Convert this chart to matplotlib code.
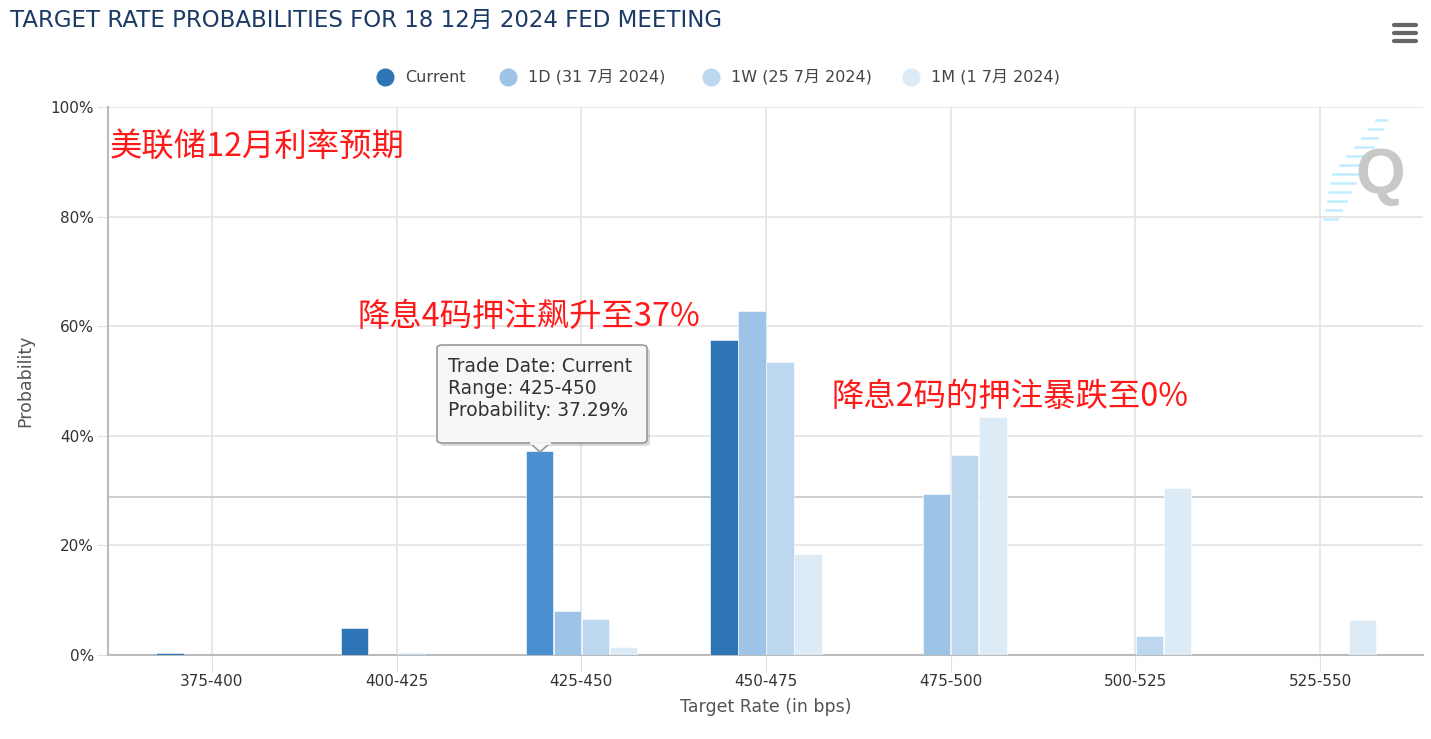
import matplotlib
matplotlib.use('Agg')
import matplotlib.pyplot as plt
import numpy as np
from matplotlib.patches import FancyBboxPatch, Polygon
from matplotlib.lines import Line2D

# donnees
categories = ['375-400', '400-425', '425-450', '450-475', '475-500', '500-525', '525-550']
current = [0.3, 4.9, 37.29, 57.5, 0, 0, 0]
d1 = [0, 0, 8.0, 62.8, 29.4, 0, 0]
w1 = [0, 0.3, 6.6, 53.5, 36.5, 3.5, 0]
m1 = [0, 0, 1.5, 18.4, 43.4, 30.5, 6.4]
series_names = ['Current', '1D (31 7月 2024)', '1W (25 7月 2024)', '1M (1 7月 2024)']
yticks = [0, 20, 40, 60, 80, 100]

colors = ['#2e75b6', '#9dc3e6', '#bdd7ee', '#ddebf7']
hover_color = '#4a90d0'

cjk = 'Noto Sans CJK SC'
plt.rcParams['font.family'] = ['DejaVu Sans', cjk]

fig = plt.figure(figsize=(14.31, 7.39), dpi=100)
ax = fig.add_axes([108/1431, 84/739, 1315/1431, 548/739])

x = np.arange(len(categories))
bw = 0.148
step = 0.152
for i, vals in enumerate([current, d1, w1, m1]):
    cols = [colors[i]] * len(vals)
    if i == 0:
        cols[2] = hover_color
    ax.bar(x + (i - 1.5) * step, vals, width=bw, color=cols, edgecolor='white', linewidth=0.4, zorder=3)

ax.set_xlim(-0.563, 6.557)
ax.set_ylim(0, 100)
ax.set_yticks(yticks)
ax.set_yticklabels([f'{v}%' for v in yticks], fontsize=11, color='#333333')
ax.set_xticks(x)
ax.set_xticklabels(categories, fontsize=11, color='#333333')
ax.tick_params(axis='y', length=8, color='#e0e0e0', pad=2)
ax.tick_params(axis='x', length=12, color='#e0e0e0', pad=2)
ax.grid(True, color='#e3e3e3', linewidth=1.2, zorder=0)
for s in ['top', 'right']:
    ax.spines[s].set_visible(False)
for s in ['left', 'bottom']:
    ax.spines[s].set_color('#bbbbbb')
    ax.spines[s].set_linewidth(1.5)
ax.set_xlabel('Target Rate (in bps)', fontsize=12.5, color='#555555', labelpad=6)
ax.set_ylabel('Probability', fontsize=12.5, color='#555555', labelpad=12)

# ligne du curseur
ax.axhline(28.8, color='#cccccc', linewidth=1.3, zorder=2)

# titre
fig.text(10/1431, 1 - 20/739, 'TARGET RATE PROBABILITIES FOR 18 12月 2024 FED MEETING',
         fontsize=16.5, color='#1b3a66', va='center', ha='left')

# legende
leg_x = [385, 508, 711, 911]
for i, name in enumerate(series_names):
    fig.add_artist(Line2D([leg_x[i] / 1431], [1 - 77/739], marker='o', markersize=12,
                          color=colors[i], linestyle='none'))
    fig.text((leg_x[i] + 20) / 1431, 1 - 77/739, name, fontsize=11.5, color='#444444',
             va='center', ha='left')

# menu
for dy in [25, 33, 41]:
    fig.add_artist(Line2D([1394/1431, 1416/1431], [1 - dy/739, 1 - dy/739], color='#666666',
                          linewidth=3, solid_capstyle='round'))

# logo Q
for k in range(12):
    yy = 120 + k * 9
    xr = 1386 - k * 4.5
    ln = 10 + 16 * (1 - abs(k - 6) / 6)
    fig.add_artist(Line2D([(xr - ln) / 1431, xr / 1431], [1 - yy/739, 1 - yy/739],
                          color='#bfefff', linewidth=1.8))
fig.text(1380/1431, 1 - 177/739, 'Q', fontsize=46, color='#c8c8c8', ha='center', va='center',
         fontweight='bold', family='Liberation Sans')

# annotations rouges
for txt, px, py in [('美联储12月利率预期', 110, 147),
                    ('降息4码押注飙升至37%', 357, 317),
                    ('降息2码的押注暴跌至0%', 832, 397)]:
    fig.text(px/1431, 1 - py/739, txt, family=[cjk], fontsize=23.3, color='#ff1a1a',
             va='center', ha='left')

# infobulle
bx0, by0, bx1, by1 = 437, 345, 647, 443
shadow = FancyBboxPatch(((bx0 + 3) / 1431, 1 - (by1 + 3) / 739), (bx1 - bx0) / 1431, (by1 - by0) / 739,
                        boxstyle='round,pad=0,rounding_size=0.004', transform=fig.transFigure,
                        facecolor='#000000', alpha=0.15, edgecolor='none', zorder=9)
fig.add_artist(shadow)
box = FancyBboxPatch((bx0 / 1431, 1 - by1 / 739), (bx1 - bx0) / 1431, (by1 - by0) / 739,
                     boxstyle='round,pad=0,rounding_size=0.004', transform=fig.transFigure,
                     facecolor='#f7f7f7', edgecolor='#999999', linewidth=1.2, zorder=10)
fig.add_artist(box)
tri = Polygon([[530/1431, 1 - 443/739], [550/1431, 1 - 443/739], [540/1431, 1 - 452/739]],
              closed=True, transform=fig.transFigure, facecolor='#f7f7f7', edgecolor='#999999',
              linewidth=1.2, zorder=10)
fig.add_artist(tri)
fig.add_artist(Line2D([531/1431, 549/1431], [1 - 443/739, 1 - 443/739], color='#f7f7f7',
                      linewidth=2, zorder=11))
tip = ['Trade Date: Current', 'Range: 425-450', 'Probability: 37.29%']
for k, t in enumerate(tip):
    fig.text(448/1431, 1 - (367 + k * 22) / 739, t, fontsize=13.4, color='#333333',
             va='center', ha='left', zorder=12)

fig.savefig('out.png', dpi=100)
